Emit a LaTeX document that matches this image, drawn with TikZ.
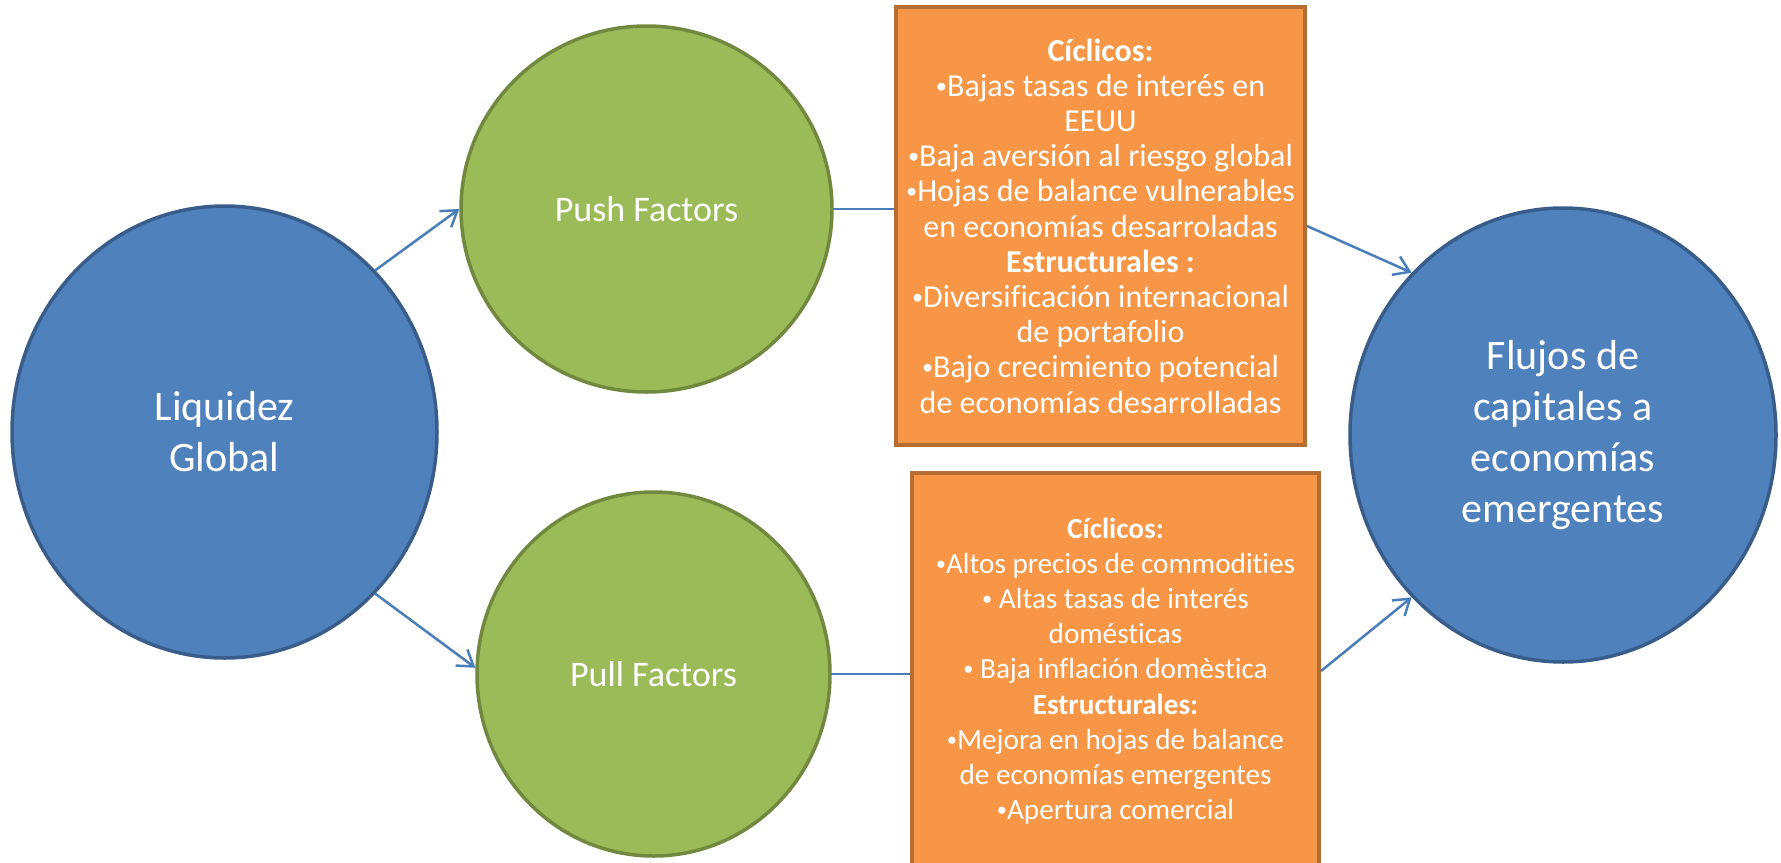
\documentclass[tikz,border=0pt]{standalone}
\usepackage{fontspec}
\setmainfont{Carlito}[Ligatures={TeX,NoCommon}]
\usetikzlibrary{shapes.geometric,arrows.meta}
\definecolor{azul}{HTML}{4F81BD}
\definecolor{azulborde}{HTML}{385D8A}
\definecolor{verde}{HTML}{9BBB59}
\definecolor{verdeborde}{HTML}{71893F}
\definecolor{naranja}{HTML}{F79646}
\definecolor{naranjaborde}{HTML}{B66D31}
\definecolor{conector}{HTML}{4A7EBB}
\newcommand{\bala}{\raisebox{0.1em}{\scalebox{0.7}{•}}}
\begin{document}
\begin{tikzpicture}[x=0.5pt, y=-0.5pt,
    circulo/.style={ellipse, inner sep=0pt, line width=1.75pt, text=white, align=center},
    grande/.style={circulo, fill=azul, draw=azulborde, font=\fontsize{21}{25.5}\selectfont},
    factor/.style={circulo, fill=verde, draw=verdeborde, font=\fontsize{18}{22}\selectfont},
    caja/.style={rectangle, inner sep=0pt, fill=naranja, draw=naranjaborde, line width=2pt,
        text=white, align=center, font=\fontsize{16}{17.6}\selectfont},
    linea/.style={draw=conector, line width=1.25pt},
    flecha/.style={linea, -{Straight Barb[length=7.5pt, width=10pt]}}]
    \clip (0,0) rectangle (1781,862);
    % Circulos
    \node[grande, minimum width=212.5pt, minimum height=226pt] (liq) at (224.5,432) {Liquidez\\Global};
    \node[grande, minimum width=213pt, minimum height=227pt] (flujos) at (1563,435) {Flujos de\\capitales a\\econom\'ias\\emergentes};
    \node[factor, minimum width=185.5pt, minimum height=183pt] (push) at (646.5,209) {Push Factors};
    \node[factor, minimum width=176.5pt, minimum height=182pt] (pull) at (653.5,674) {Pull Factors};
    % Cajas
    \node[caja, minimum width=204.5pt, minimum height=219pt] (cajapush) at (1100.5,226) {%
        \textbf{Cíclicos:}\\
        \bala Bajas tasas de interés en\\
        EEUU\\
        \bala Baja aversión al riesgo global\\
        \bala Hojas de balance vulnerables\\
        en economías desarroladas\\
        \textbf{Estructurales :}\\
        \bala Diversificación internacional\\
        de portafolio\\
        \bala Bajo crecimiento potencial\\
        de economías desarrolladas};
    \node[caja, minimum width=203.5pt, minimum height=198pt,
        font=\fontsize{14.6}{17.6}\selectfont] (cajapull) at (1115.5,671) {%
        \textbf{Cíclicos:}\\
        \bala Altos precios de commodities\\
        \bala{} Altas tasas de interés\\
        domésticas\\
        \bala{} Baja inflación domèstica\\
        \textbf{Estructurales:}\\
        \bala Mejora en hojas de balance\\
        de economías emergentes\\
        \bala Apertura comercial};
    % Conectores
    \draw[flecha] (liq.47) -- (push.west);
    \draw[flecha] (liq.-47) -- (pull.178);
    \draw[linea] (push.east) -- (push.east -| cajapush.west);
    \draw[linea] (pull.east) -- (pull.east -| cajapull.west);
    \draw[flecha] (cajapush.east) -- (flujos.133);
    \draw[flecha] (cajapull.east) -- (flujos.-133);
\end{tikzpicture}
\end{document}
